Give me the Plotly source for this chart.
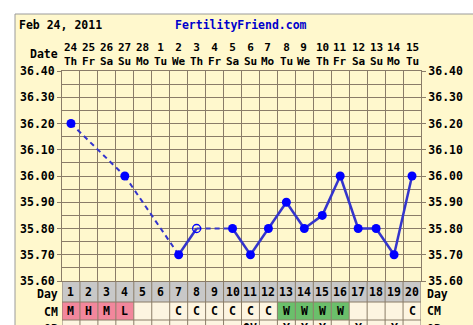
import plotly.graph_objects as go

# ---- chart data ----
dates = ["24", "25", "26", "27", "28", "1", "2", "3", "4", "5",
         "6", "7", "8", "9", "10", "11", "12", "13", "14", "15"]
weekdays = ["Th", "Fr", "Sa", "Su", "Mo", "Tu", "We", "Th", "Fr", "Sa",
            "Su", "Mo", "Tu", "We", "Th", "Fr", "Sa", "Su", "Mo", "Tu"]
cycle_days = list(range(1, 21))

temp_days = [1, 4, 7, 8, 10, 11, 12, 13, 14, 15, 16, 17, 18, 19, 20]
temps = [36.20, 36.00, 35.70, 35.80, 35.80, 35.70, 35.80, 35.90, 35.80,
         35.85, 36.00, 35.80, 35.80, 35.70, 36.00]
discarded_days = [8]

cm_values = ["M", "H", "M", "L", "", "", "C", "C", "C", "C",
             "C", "C", "W", "W", "W", "W", "", "", "", "C"]
op_values = ["", "", "", "", "", "", "", "", "", "",
             "OV", "", "Y", "Y", "Y", "", "Y", "", "Y", ""]

temp_ticks = [35.60, 35.70, 35.80, 35.90, 36.00, 36.10, 36.20, 36.30, 36.40]
half_ticks = [35.65, 35.75, 35.85, 35.95, 36.05, 36.15, 36.25, 36.35]

# ---- styling ----
W, H = 473, 325
PANEL = "#FFF8CD"
GRIDFILL = "#FAF0B4"
GRID = "#8A7C68"
DAYROW = "#C8C8C8"
CELL = "#FDF5E1"
PINK = "#F2879C"
GREEN = "#6BBF6B"
LINE = "#3434CC"
DOT = "#0000FF"
FONT = dict(family="DejaVu Sans Mono", size=11.5, color="black", weight="bold")


def X(p):
    return p / W


def Y(p):
    return 1 - p / H


fig = go.Figure()

# connecting lines: solid between consecutive days, dashed across gaps
solid_x, solid_y, dash_x, dash_y = [], [], [], []
for (d0, t0), (d1, t1) in zip(zip(temp_days, temps), zip(temp_days[1:], temps[1:])):
    if d1 - d0 == 1:
        solid_x += [d0, d1, None]
        solid_y += [t0, t1, None]
    else:
        dash_x += [d0, d1, None]
        dash_y += [t0, t1, None]

fig.add_trace(go.Scatter(x=dash_x, y=dash_y, mode="lines",
                         line=dict(color=LINE, width=2, dash="5px,4px"),
                         hoverinfo="skip"))
fig.add_trace(go.Scatter(x=solid_x, y=solid_y, mode="lines",
                         line=dict(color=LINE, width=2.5), hoverinfo="skip"))

kept = [(d, t) for d, t in zip(temp_days, temps) if d not in discarded_days]
dropped = [(d, t) for d, t in zip(temp_days, temps) if d in discarded_days]
fig.add_trace(go.Scatter(x=[d for d, _ in kept], y=[t for _, t in kept],
                         mode="markers", marker=dict(color=DOT, size=9)))
fig.add_trace(go.Scatter(x=[d for d, _ in dropped], y=[t for _, t in dropped],
                         mode="markers",
                         marker=dict(symbol="circle-open", color=DOT, size=8,
                                     line=dict(width=1.3, color=DOT))))
# invisible trace to activate the right-hand temperature axis
fig.add_trace(go.Scatter(x=[None], y=[None], yaxis="y2", showlegend=False))

shapes = []
# outer panel
shapes.append(dict(type="rect", xref="paper", yref="paper",
                   x0=X(15), x1=X(500), y0=Y(360), y1=Y(14),
                   fillcolor=PANEL, line=dict(color="#9A9A9A", width=1),
                   layer="below"))
# day-number row
shapes.append(dict(type="rect", xref="x", yref="paper",
                   x0=0.5, x1=20.5, y0=Y(302), y1=Y(281),
                   fillcolor=DAYROW, line=dict(width=0), layer="below"))
# CM cells
for d, v in zip(cycle_days, cm_values):
    color = PINK if v in ("M", "H", "L", "S") else GREEN if v == "W" else CELL
    shapes.append(dict(type="rect", xref="x", yref="paper",
                       x0=d - 0.5, x1=d + 0.5, y0=Y(320), y1=Y(302),
                       fillcolor=color, line=dict(width=0), layer="below"))
# next row cells
shapes.append(dict(type="rect", xref="x", yref="paper",
                   x0=0.5, x1=20.5, y0=Y(345), y1=Y(320),
                   fillcolor=CELL, line=dict(width=0), layer="below"))
# table grid lines
for b in range(0, 21):
    shapes.append(dict(type="line", xref="x", yref="paper",
                       x0=b + 0.5, x1=b + 0.5, y0=Y(345), y1=Y(281),
                       line=dict(color=GRID, width=1)))
for yy in (302, 320):
    shapes.append(dict(type="line", xref="x", yref="paper",
                       x0=0.5, x1=20.5, y0=Y(yy), y1=Y(yy),
                       line=dict(color=GRID, width=1)))

ann = []


def label(x, y, text, xref="paper", xanchor="center", color="black", size=None):
    font = dict(FONT, color=color)
    if size:
        font["size"] = size
    ann.append(dict(x=x, y=y, xref=xref, yref="paper", text=text,
                    showarrow=False, xanchor=xanchor, yanchor="middle",
                    borderpad=0, font=font))


label(X(18), Y(25), "Feb 24, 2011", xanchor="left")
label(X(241), Y(25), "FertilityFriend.com", color="#0000CC")
label(X(59), Y(54), "Date", xanchor="right")
for d, dt, wd in zip(cycle_days, dates, weekdays):
    label(d, Y(54.5), f"{dt}<br>{wd}", xref="x", size=11)
    label(d, Y(292), str(d), xref="x")
for d, v in zip(cycle_days, cm_values):
    if v:
        label(d, Y(311), v, xref="x")
for d, v in zip(cycle_days, op_values):
    if v:
        label(d, Y(328), v, xref="x")
label(X(59), Y(294), "Day", xanchor="right")
label(X(426), Y(294), "Day", xanchor="left")
label(X(59), Y(312), "CM", xanchor="right")
label(X(426), Y(311), "CM", xanchor="left")
label(X(59), Y(329), "OP", xanchor="right")
label(X(426), Y(329), "OP", xanchor="left")

yaxis_common = dict(range=[35.6, 36.4], tickvals=temp_ticks,
                    ticktext=[f"{t:.2f}" for t in temp_ticks],
                    ticks="outside", ticklen=4, tickcolor=GRID, tickwidth=1,
                    tickfont=FONT, zeroline=False, fixedrange=True)

fig.update_layout(
    width=W, height=H,
    margin=dict(l=0, r=0, t=0, b=0, autoexpand=False),
    paper_bgcolor="white", plot_bgcolor=GRIDFILL, showlegend=False,
    xaxis=dict(domain=[X(62), X(421)], range=[0.5, 20.5],
               tickvals=[b + 0.5 for b in range(0, 21)], showticklabels=False,
               ticks="", showgrid=True, gridcolor=GRID, gridwidth=1,
               zeroline=False, showline=True, mirror=True, linecolor=GRID),
    yaxis=dict(domain=[Y(281), Y(71)], showgrid=True, gridcolor=GRID,
               showline=True, mirror=True, linecolor=GRID,
               minor=dict(tickvals=half_ticks, showgrid=True, gridcolor=GRID,
                          ticks=""),
               **yaxis_common),
    yaxis2=dict(overlaying="y", side="right", showgrid=False, anchor="x",
                **yaxis_common),
    shapes=shapes, annotations=ann,
)

fig.write_html("out.html")
